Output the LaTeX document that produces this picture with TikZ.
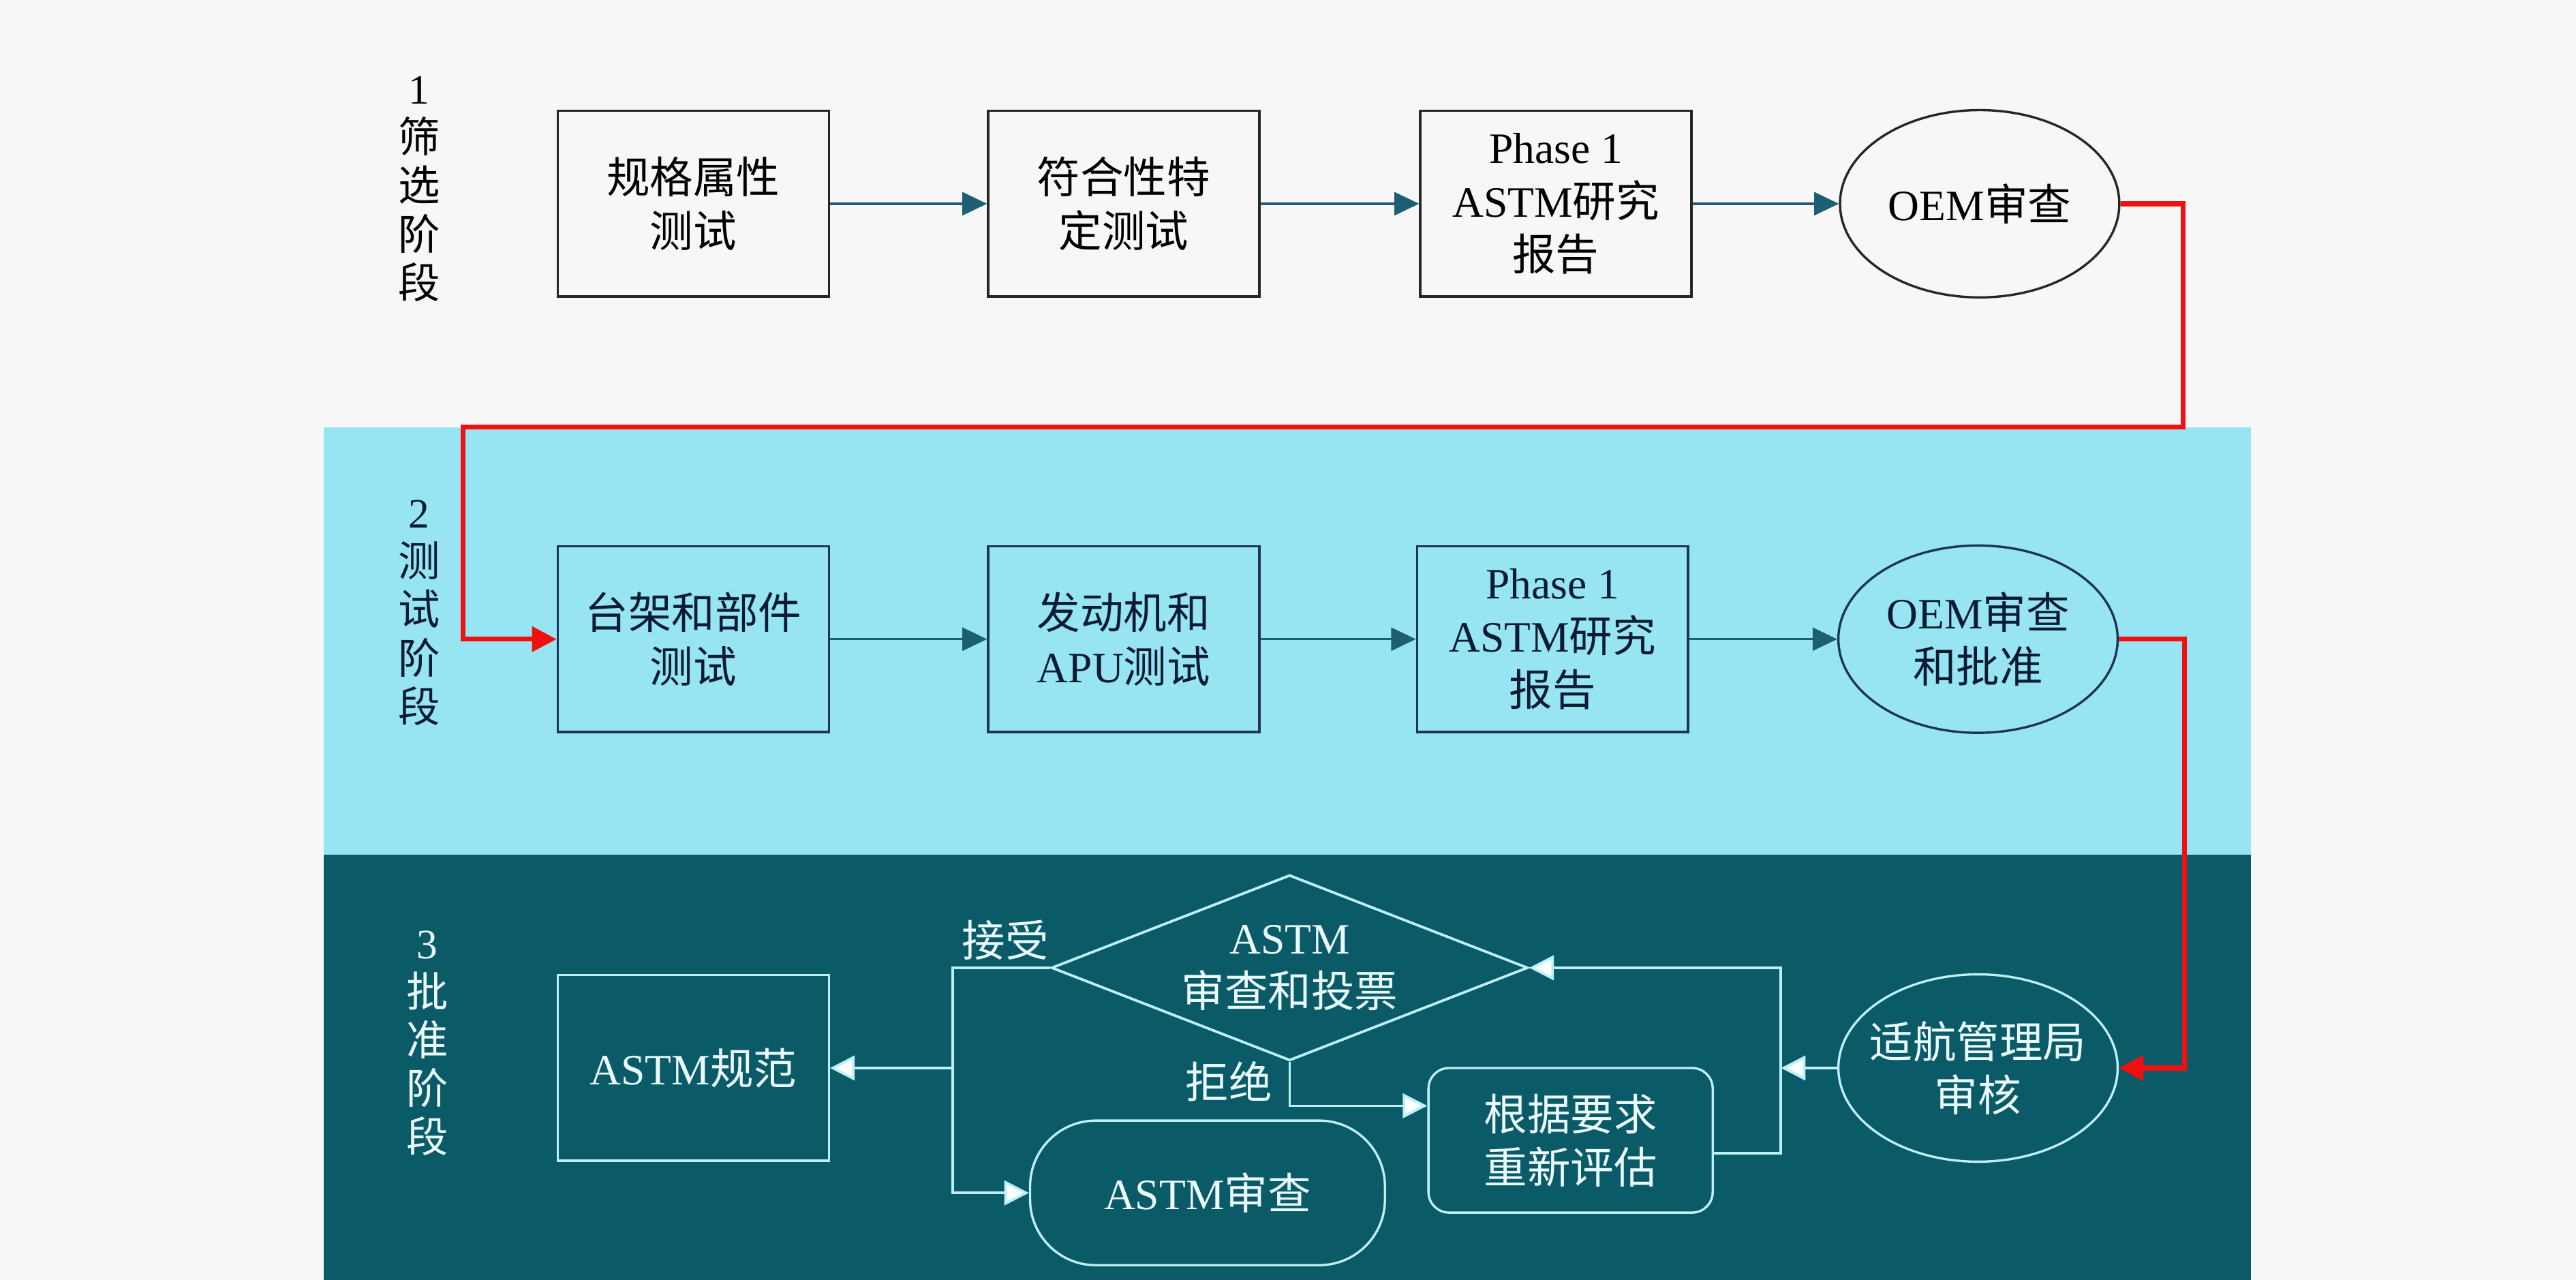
\documentclass[tikz,border=0pt]{standalone}
\usepackage{fontspec}
\setmainfont{Liberation Serif}
\newfontfamily\cn{Noto Sans CJK SC}
\usetikzlibrary{shapes.geometric,arrows.meta}

\definecolor{pagebg}{HTML}{F7F7F7}
\definecolor{testband}{HTML}{97E5F3}
\definecolor{approveband}{HTML}{0B5A67}
\definecolor{flowteal}{HTML}{1C5E72}
\definecolor{navyline}{HTML}{1E3550}
\definecolor{navytext}{HTML}{0B1B33}
\definecolor{paleline}{HTML}{BDEFF8}
\definecolor{paletext}{HTML}{EAFBFF}
\definecolor{redroute}{HTML}{F01010}

\tikzset{
  every node/.style={font=\fontsize{15pt}{18.5pt}\selectfont},
  procbox/.style={draw,line width=0.8pt,minimum width=3.3cm,minimum height=2.26cm,
    align=center,inner sep=2pt},
  revoval/.style={ellipse,draw,line width=0.8pt,minimum width=3.4cm,minimum height=2.28cm,
    align=center,inner sep=0pt},
  roundbox/.style={draw,line width=0.8pt,align=center,minimum height=1.76cm},
  rowone/.style={draw=black!85,text=black},
  rowtwo/.style={draw=navyline,text=navytext},
  rowthree/.style={draw=paleline,text=paletext},
  stagelbl/.style={align=center,font=\fontsize{14.5pt}{16.8pt}\selectfont},
  flow/.style={-{Triangle[length=0.3cm,width=0.28cm]},line width=0.8pt,draw=flowteal},
  redflow/.style={-{Triangle[length=0.3cm,width=0.3cm]},line width=1.7pt,draw=redroute},
  paleflow/.style={-{Triangle[length=0.3cm,width=0.3cm,fill=white]},line width=0.9pt,draw=paleline}
}

\begin{document}
\begin{tikzpicture}[x=0.2mm,y=-0.2mm]
  % --- page and stage bands ---
  \fill[pagebg] (0,0) rectangle (1568,779);
  \fill[testband] (197,260) rectangle (1370,520);
  \fill[approveband] (197,520) rectangle (1370,779);

  % --- stage labels ---
  \node[stagelbl,text=black] (s1) at (255,115) {1\\{\cn 筛}\\{\cn 选}\\{\cn 阶}\\{\cn 段}};
  \node[stagelbl,text=navytext] (s2) at (255,373) {2\\{\cn 测}\\{\cn 试}\\{\cn 阶}\\{\cn 段}};
  \node[stagelbl,text=paletext] (s3) at (260,635) {3\\{\cn 批}\\{\cn 准}\\{\cn 阶}\\{\cn 段}};

  % --- stage 1: screening ---
  \node[procbox,rowone] (spec) at (422,124) {{\cn 规格属性}\\{\cn 测试}};
  \node[procbox,rowone] (conform) at (684,124) {{\cn 符合性特}\\{\cn 定测试}};
  \node[procbox,rowone] (report1) at (947,124) {Phase 1\\ASTM{\cn 研究}\\{\cn 报告}};
  \node[revoval,rowone] (oem1) at (1205,124) {OEM{\cn 审查}};
  \draw[flow] (spec) -- (conform);
  \draw[flow] (conform) -- (report1);
  \draw[flow] (report1) -- (oem1);

  % --- stage 2: testing ---
  \node[procbox,rowtwo] (bench) at (422,389) {{\cn 台架和部件}\\{\cn 测试}};
  \node[procbox,rowtwo] (engine) at (684,389) {{\cn 发动机和}\\APU{\cn 测试}};
  \node[procbox,rowtwo] (report2) at (945,389) {Phase 1\\ASTM{\cn 研究}\\{\cn 报告}};
  \node[revoval,rowtwo] (oem2) at (1204,389) {OEM{\cn 审查}\\{\cn 和批准}};
  \draw[flow] (bench) -- (engine);
  \draw[flow] (engine) -- (report2);
  \draw[flow] (report2) -- (oem2);

  % --- stage 3: approval ---
  \node[procbox,rowthree] (astmspec) at (422,650) {ASTM{\cn 规范}};
  \node[diamond,draw=paleline,line width=0.9pt,text=paletext,align=center,aspect=2.57,
        minimum width=5.8cm,minimum height=2.26cm,inner sep=0pt] (vote) at (785,589)
        {ASTM\\{\cn 审查和投票}};
  \node[revoval,rowthree,inner xsep=-0.5cm] (faa) at (1204,650) {{\cn 适航管理局}\\{\cn 审核}};
  \node[roundbox,rowthree,rounded corners=0.25cm,minimum width=3.46cm] (reeval) at (956,694)
        {{\cn 根据要求}\\{\cn 重新评估}};
  \node[roundbox,rowthree,rounded corners=0.8cm,minimum width=4.32cm] (astmrev) at (735,726)
        {ASTM{\cn 审查}};
  \node[text=paletext] (accept) at (612,572) {\cn 接受};
  \node[text=paletext] (reject) at (748,658) {\cn 拒绝};

  \coordinate (split) at (580,650);
  \coordinate (loopline) at (1084,650);
  \draw[paleflow] (faa) -- (loopline);
  \draw[paleflow] (reeval.east |- 0,702) -| (loopline |- vote.east) -- (vote.east);
  \draw[paleflow] (vote.west) -| (split) |- (astmrev.west);
  \draw[paleflow] (split) -- (astmspec.east);
  \draw[paleflow] (vote.south) |- (reeval.west |- 0,673);

  % --- red hand-over routes ---
  \draw[redflow] (oem1.east) -- ++(38,0) |- (282,260) |- (bench.west);
  \draw[redflow] (oem2.east) -- ++(40,0) |- (faa.east);
\end{tikzpicture}
\end{document}
